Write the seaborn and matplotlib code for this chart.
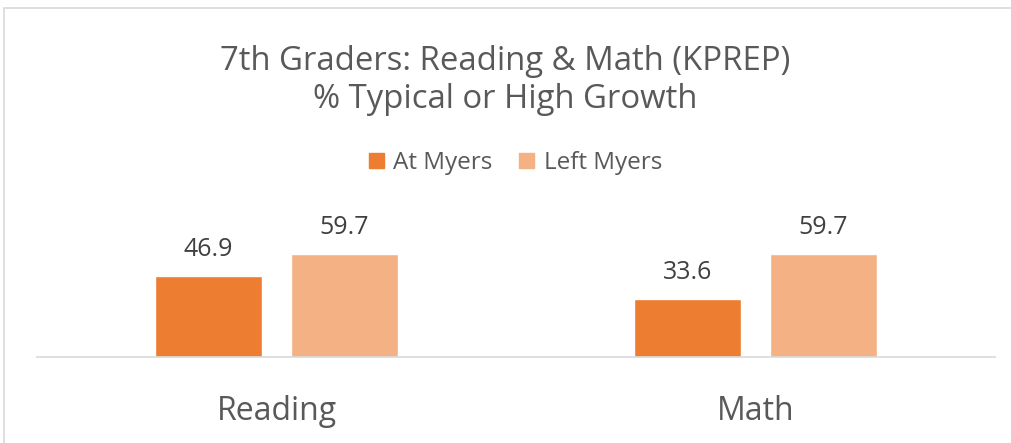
import pandas as pd
import seaborn as sns
import matplotlib.pyplot as plt
from matplotlib.patches import Rectangle

sns.set_theme(style="white")
plt.rcParams["font.family"] = ["Open Sans", "DejaVu Sans"]

# -----------------------------------
# Data
# -----------------------------------

subjects = ["Reading", "Math"]
groups = ["At Myers", "Left Myers"]
at_myers = [46.9, 33.6]
left_myers = [59.7, 59.7]

colors = ["#ED7D31", "#F4B183"]
text_color = "#595959"

df = pd.DataFrame({
    "subject": subjects * 2,
    "group": [groups[0]] * 2 + [groups[1]] * 2,
    "value": at_myers + left_myers,
})

# -----------------------------------
# Plot
# -----------------------------------

fig = plt.figure(figsize=(10.11, 4.43), dpi=100)
ax = fig.add_axes([37 / 1011, 86 / 443, 958 / 1011, 121 / 443])

sns.barplot(
    data=df,
    x="subject",
    y="value",
    hue="group",
    hue_order=groups,
    order=subjects,
    palette=colors,
    saturation=1,
    width=0.566,
    gap=0.213,
    legend=False,
    ax=ax,
)

ax.set_xlim(-0.5, 1.5)
ax.set_ylim(0, 70)

# Data labels
for container in ax.containers:
    ax.bar_label(
        container,
        fmt="%.1f",
        padding=10,
        fontsize=18,
        color="#404040",
    )

ax.set_xlabel("")
ax.set_ylabel("")
ax.set_yticks([])
ax.tick_params(axis="x", length=0, pad=27, labelsize=23, labelcolor=text_color)

for side in ["top", "left", "right"]:
    ax.spines[side].set_visible(False)
ax.spines["bottom"].set_color("#d9d9d9")
ax.spines["bottom"].set_linewidth(1.2)

# Title
fig.text(
    0.5, 1 - 61 / 443,
    "7th Graders: Reading & Math (KPREP)",
    ha="center", va="center",
    fontsize=23.7, color=text_color,
)
fig.text(
    0.5, 1 - 100 / 443,
    "% Typical or High Growth",
    ha="center", va="center",
    fontsize=23.7, color=text_color,
)

# Legend
handles = [
    Rectangle((0, 0), 1, 1, color=c) for c in colors
]
fig.legend(
    handles,
    groups,
    loc="center",
    bbox_to_anchor=(0.51, 1 - 163 / 443),
    ncol=2,
    frameon=False,
    fontsize=17.5,
    labelcolor=text_color,
    handlelength=0.6,
    handleheight=0.6,
    handletextpad=0.4,
    columnspacing=1.1,
)

# Chart border
fig.add_artist(Rectangle(
    (4 / 1011, -0.05), 1.1, 1 - 8 / 443 + 0.05,
    transform=fig.transFigure,
    fill=False, edgecolor="#d9d9d9", linewidth=1.2,
))

plt.savefig("out.png", dpi=100)
plt.close(fig)
